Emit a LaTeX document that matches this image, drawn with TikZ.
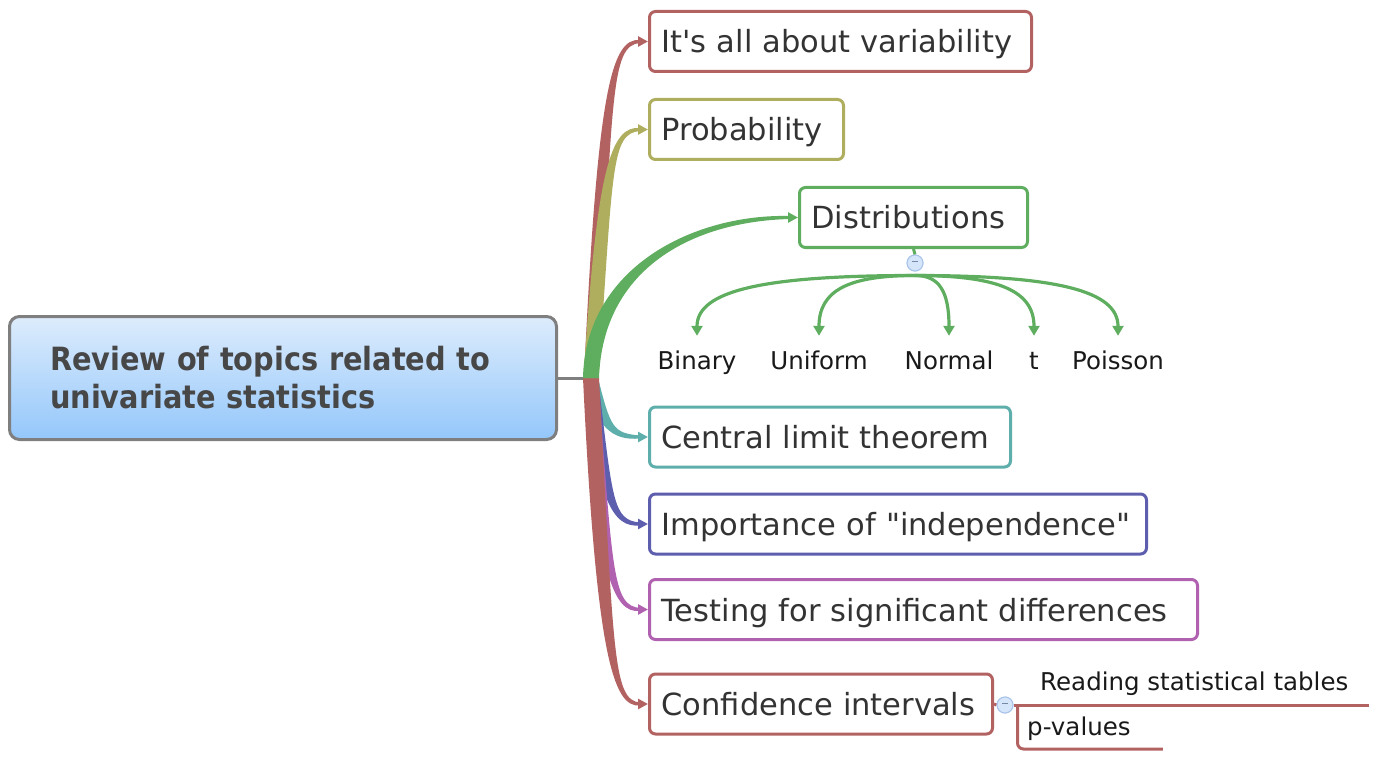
\documentclass[tikz,border=0pt]{standalone}
\usepackage{fontspec}
\newfontfamily\dv{DejaVu Sans}
\newfontfamily\dvr{DejaVu Sans}[FakeStretch=0.9]
\usetikzlibrary{calc,arrows.meta}
\definecolor{cred}{HTML}{B36262}
\definecolor{colive}{HTML}{AEAE5E}
\definecolor{cgreen}{HTML}{5FAE5F}
\definecolor{cteal}{HTML}{5EAFAC}
\definecolor{cblue}{HTML}{5E5EAE}
\definecolor{cpurple}{HTML}{B062B0}
\definecolor{rootT}{HTML}{DDECFC}
\definecolor{rootB}{HTML}{94C7FB}
\definecolor{rootD}{HTML}{7F7F7F}
\definecolor{txt}{HTML}{333333}
\definecolor{rtxt}{HTML}{474747}
\definecolor{cfill}{HTML}{D5E5FA}
\definecolor{cdraw}{HTML}{A9C3EA}
% #1 colour, #2 node, #3 control 1, #4 control 2, #5 start width, #6 outer end offset, #7 inner end offset
\newcommand\taper[7]{%
 \fill[#1] ($(hub)+(-#5/2,0)$) .. controls ($#3+(-#5*0.55,0)$) and ($#4+(0,#6*2.6)$) .. ($(#2.west)+(-8,#6)$)
   -- ($(#2.west)+(-8,#7)$) .. controls ($#4+(0,#7*2.6)$) and ($#3+(#5*0.55,0)$) .. ($(hub)+(#5/2,0)$) -- cycle;
 \draw[#1, line width=3pt, -{Triangle[length=10pt,width=10pt]}] ($(#2.west)+(-9,0)$) -- (#2.west);}
\begin{document}
\begin{tikzpicture}[x=1pt,y=-1pt,
 topic/.style={draw=#1, line width=3pt, rounded corners=6pt, fill=white, anchor=west,
   minimum height=60pt, inner xsep=12pt, inner ysep=0pt, text height=23pt, text depth=0pt,
   align=left, font=\dv\fontsize{30.5}{36}\selectfont, text=txt},
 sub/.style={anchor=base, inner sep=0pt, text height=18pt, text depth=5pt,
   font=\dv\fontsize{24.5}{29}\selectfont, text=black!90},
 leaf/.style={anchor=base west, inner sep=0pt, font=\dv\fontsize{24.5}{29}\selectfont, text=black!90},
 gar/.style={draw=cgreen, line width=3.2pt, -{Triangle[length=10pt,width=11pt]}},
 toggle/.style={circle, draw=cdraw, fill=cfill, line width=1pt, minimum size=16pt, inner sep=0pt,
   text=cdraw!70!black}
]
\useasboundingbox (0,0) rectangle (1396,759);

% root
\node[draw=rootD, line width=3pt, rounded corners=10pt, top color=rootT, bottom color=rootB,
  minimum width=547pt, minimum height=123pt, text width=466pt, align=left, inner sep=0pt,
  font=\dvr\bfseries\fontsize{32}{38}\selectfont, text=rtxt] (root) at (283,378)
  {Review of topics related to\\univariate statistics};

% topics
\node[topic=cred,    minimum width=382pt, text width=358pt] (n1) at (648,41.5) {It's all about variability};
\node[topic=colive,  minimum width=194pt, text width=170pt] (n2) at (648,129.5) {Probability};
\node[topic=cgreen,  minimum width=228pt, text width=204pt] (n3) at (798,217.5) {Distributions};
\node[topic=cteal,   minimum width=361pt, text width=337pt] (n4) at (648,437) {Central limit theorem};
\node[topic=cblue,   minimum width=497pt, text width=473pt] (n5) at (648,524) {Importance of "independence"};
\node[topic=cpurple, minimum width=548pt, text width=524pt] (n6) at (648,609.5) {Testing for significant differences};
\node[topic=cred,    minimum width=343pt, text width=319pt] (n7) at (648,704) {Confidence intervals};

% hub
\coordinate (hub) at ($(root.east)+(33,0)$);
\draw[rootD, line width=3pt] (root.east) -- (hub);

% branches
\taper{cteal}{n4}{(hub)!0.85!(hub |- n4.west)+(12,0)}{(hub |- n4.west)+(22,0)}{14}{1.5}{-1.5}
\taper{cblue}{n5}{(hub)!0.85!(hub |- n5.west)+(14,0)}{(hub |- n5.west)+(22,0)}{14}{1.5}{-1.5}
\taper{cpurple}{n6}{(hub)!0.85!(hub |- n6.west)+(14,0)}{(hub |- n6.west)+(22,0)}{14}{1.5}{-1.5}
\taper{cred}{n7}{(hub)!0.85!(hub |- n7.west)+(14,0)}{(hub |- n7.west)+(22,0)}{16}{1.5}{-1.5}
\taper{cred}{n1}{(hub)!0.85!(hub |- n1.west)+(14,0)}{(hub |- n1.west)+(20,0)}{14}{-1.5}{1.5}
\taper{colive}{n2}{(hub)!0.85!(hub |- n2.west)+(14,0)}{(hub |- n2.west)+(20,0)}{15}{-1.5}{1.5}
\taper{cgreen}{n3}{(hub)+(3,-110)}{(n3.west)+(-105,0)}{16}{-1.5}{1.5}

% distributions subtree
\node[sub] (bin) at (697,369) {Binary};
\node[sub] (uni) at (819,369) {Uniform};
\node[sub] (nor) at (949,369) {Normal};
\node[sub] (tt)  at (1034,369) {t};
\node[sub] (poi) at (1118,369) {Poisson};
\node[toggle] (dc) at (915,263) {};
\draw[cgreen, line width=3pt] (n3.south) -- (dc.north);
\coordinate (fan) at ($(dc.south)+(0,4)$);
\foreach \c in {bin,uni,nor,tt,poi}{
  \draw[gar] (fan) .. controls ($(fan)!0.7!(fan -| \c)$) and ($(\c.north)+(0,-60)$) .. ($(\c.north)+(0,-15)$);
}
\node[toggle] at (dc) {\rule[2.5pt]{6pt}{1.2pt}};

% confidence subtree
\node[leaf] (rst) at (1040,690) {Reading statistical tables};
\node[leaf] (pv) at (1027,735) {p-values};
\node[toggle] (cc) at (1005,705) {};
\draw[cred, line width=3pt] (n7.east) -- (cc.west);
\draw[cred, line width=3pt] (cc.east) -- ($(cc.east -| rst.east)+(20,0)$);
\draw[cred, line width=3pt, rounded corners=6pt] ($(cc.east)+(4,0)$) |- ($(pv.base east)+(32,14)$);
\node[toggle] at (cc) {\rule[2.5pt]{6pt}{1.2pt}};
\end{tikzpicture}
\end{document}
